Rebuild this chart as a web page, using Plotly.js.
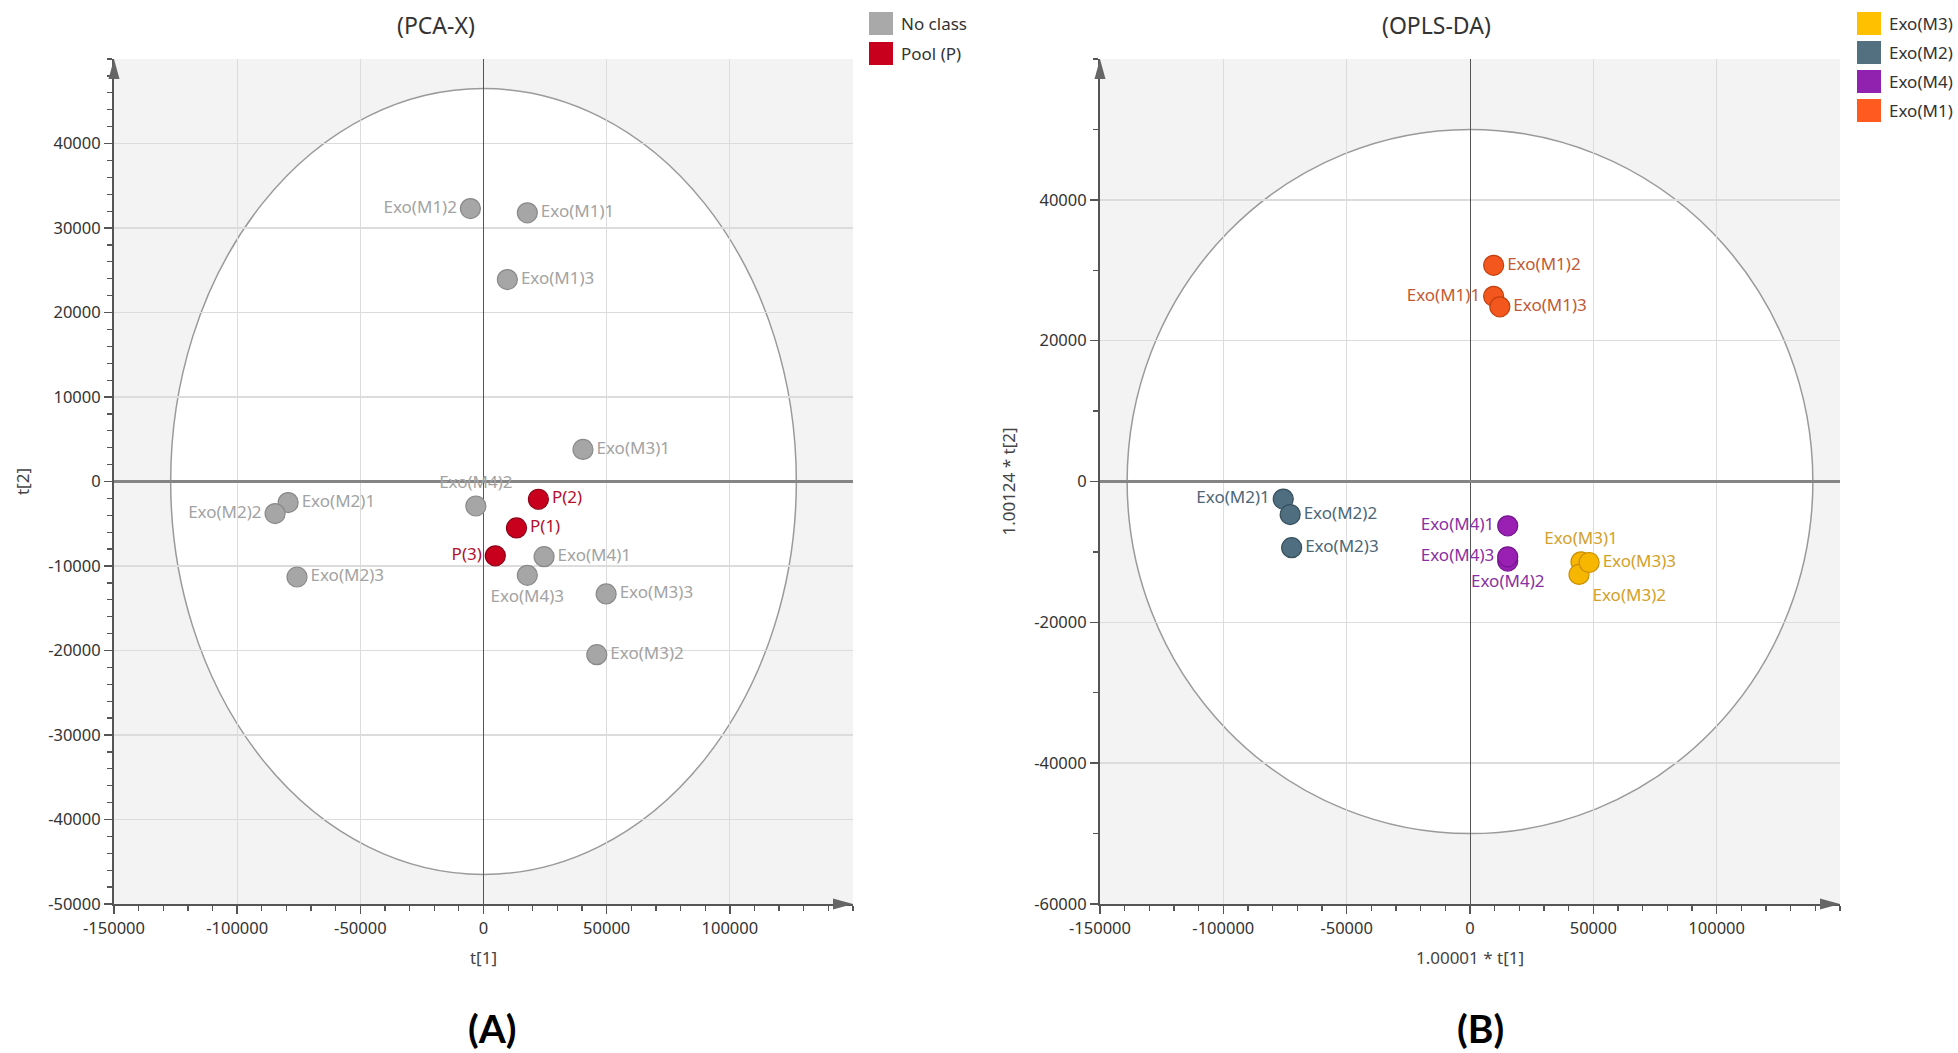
<!DOCTYPE html>
<html>
<head>
<meta charset="utf-8">
<script src="https://cdn.plot.ly/plotly-3.0.1.min.js"></script>
<style>
  html, body { margin: 0; padding: 0; background: #ffffff; }
  #chart { width: 1958px; height: 1053px; }
</style>
</head>
<body>
<div id="chart"></div>
<script>
// ---- PCA-X scores (t[1], t[2]) ----
const pcaSampleNames = ['Exo(M1)1', 'Exo(M1)2', 'Exo(M1)3', 'Exo(M2)1', 'Exo(M2)2', 'Exo(M2)3',
                        'Exo(M3)1', 'Exo(M3)2', 'Exo(M3)3', 'Exo(M4)1', 'Exo(M4)2', 'Exo(M4)3'];
const pcaSampleT1 = [17800, -5300, 9700, -79300, -84600, -75700, 40400, 46000, 49800, 24600, -3100, 17800];
const pcaSampleT2 = [31800, 32300, 23900, -2500, -3800, -11300, 3800, -20500, -13300, -8900, -2900, -11100];
const pcaSampleLabelPos = ['middle right', 'middle left', 'middle right', 'middle right', 'middle left', 'middle right',
                           'middle right', 'middle right', 'middle right', 'middle right', 'top center', 'bottom center'];

const pcaPoolNames = ['P(1)', 'P(2)', 'P(3)'];
const pcaPoolT1 = [13400, 22300, 4800];
const pcaPoolT2 = [-5500, -2100, -8800];
const pcaPoolLabelPos = ['middle right', 'middle right', 'middle left'];

const pcaClasses = ['No class', 'Pool (P)'];
const pcaEllipseSemiAxes = [127000, 46500];   // Hotelling T2 (95%) ellipse

// ---- OPLS-DA scores (1.00001*t[1], 1.00124*t[2]) ----
const oplsClasses = ['Exo(M3)', 'Exo(M2)', 'Exo(M4)', 'Exo(M1)'];
const oplsM1Names = ['Exo(M1)1', 'Exo(M1)2', 'Exo(M1)3'];
const oplsM1X = [9600, 9600, 12100];
const oplsM1Y = [26300, 30700, 24800];
const oplsM2Names = ['Exo(M2)1', 'Exo(M2)2', 'Exo(M2)3'];
const oplsM2X = [-75700, -72900, -72300];
const oplsM2Y = [-2500, -4700, -9400];
const oplsM3Names = ['Exo(M3)1', 'Exo(M3)2', 'Exo(M3)3'];
const oplsM3X = [45000, 44200, 48300];
const oplsM3Y = [-11400, -13200, -11500];
const oplsM4Names = ['Exo(M4)1', 'Exo(M4)2', 'Exo(M4)3'];
const oplsM4X = [15300, 15300, 15300];
const oplsM4Y = [-6300, -11300, -10700];
const oplsEllipseSemiAxes = [139000, 50000];

// ---- styling ----
const W = 1958, H = 1053;
const FONT = '"Segoe UI", "Noto Sans", "Open Sans", sans-serif';
const px = v => v / W;
const py = v => 1 - v / H;

const style = {
  none: { fill: '#a6a6a6', line: '#8a8a8a', text: '#a3a3a3', key: '#a9a9a9' },
  pool: { fill: '#c8001e', line: '#8e0016', text: '#b3102c', key: '#c8001e' },
  m1:   { fill: '#f4571e', line: '#c2400f', text: '#c25a35', key: '#ff5a1f' },
  m2:   { fill: '#4f6f80', line: '#37505e', text: '#4d6777', key: '#52707f' },
  m3:   { fill: '#f7b600', line: '#cc8f00', text: '#d2a12c', key: '#ffc000' },
  m4:   { fill: '#9a1fb3', line: '#741590', text: '#8a30a2', key: '#9122b0' }
};

function scoreTrace(xs, ys, names, pos, st, xa, ya) {
  return {
    type: 'scatter', mode: 'markers+text',
    x: xs, y: ys, text: names, textposition: pos,
    xaxis: xa, yaxis: ya, showlegend: false, hoverinfo: 'text',
    cliponaxis: false,
    marker: { size: 20, color: st.fill, line: { color: st.line, width: 1.2 } },
    textfont: { family: FONT, size: 17, color: st.text }
  };
}

const oplsPos = {
  m1: ['middle left', 'middle right', 'middle right'],
  m2: ['middle left', 'middle right', 'middle right'],
  m3: ['top center', 'bottom right', 'middle right'],
  m4: ['middle left', 'bottom center', 'middle left']
};

const data = [
  scoreTrace(pcaSampleT1, pcaSampleT2, pcaSampleNames, pcaSampleLabelPos, style.none, 'x', 'y'),
  scoreTrace(pcaPoolT1, pcaPoolT2, pcaPoolNames, pcaPoolLabelPos, style.pool, 'x', 'y'),
  scoreTrace(oplsM2X, oplsM2Y, oplsM2Names, oplsPos.m2, style.m2, 'x2', 'y2'),
  scoreTrace(oplsM4X, oplsM4Y, oplsM4Names, oplsPos.m4, style.m4, 'x2', 'y2'),
  scoreTrace(oplsM3X, oplsM3Y, oplsM3Names, oplsPos.m3, style.m3, 'x2', 'y2'),
  scoreTrace(oplsM1X, oplsM1Y, oplsM1Names, oplsPos.m1, style.m1, 'x2', 'y2')
];

const axisTitleFont = { family: FONT, size: 17, color: '#444' };

function xAxis(domain, titleText) {
  return {
    domain: domain, range: [-150000, 150000], autorange: false,
    tickvals: [-150000, -100000, -50000, 0, 50000, 100000],
    ticktext: ['-150000', '-100000', '-50000', '0', '50000', '100000'],
    ticks: 'outside', ticklen: 8, tickwidth: 1.5, tickcolor: '#555',
    minor: { dtick: 10000, tick0: 0, ticks: 'outside', ticklen: 5, tickwidth: 1.2, tickcolor: '#555', showgrid: false },
    showline: true, linecolor: '#555', linewidth: 2,
    showgrid: true, gridcolor: '#dcdcdc', gridwidth: 1,
    zeroline: true, zerolinecolor: '#555', zerolinewidth: 1,
    tickfont: { family: FONT, size: 16.5, color: '#333' },
    title: { text: titleText, font: axisTitleFont, standoff: 14 },
    fixedrange: true
  };
}
function yAxis(domain, range, dtick, minorDtick, titleText) {
  const vals = [];
  for (let v = range[0]; v < range[1]; v += dtick) vals.push(v);
  return {
    domain: domain, range: range, autorange: false,
    tickvals: vals, ticktext: vals.map(String),
    ticks: 'outside', ticklen: 8, tickwidth: 1.5, tickcolor: '#555',
    minor: { dtick: minorDtick, tick0: 0, ticks: 'outside', ticklen: 5, tickwidth: 1.2, tickcolor: '#555', showgrid: false },
    showline: true, linecolor: '#555', linewidth: 2,
    showgrid: true, gridcolor: '#dcdcdc', gridwidth: 1.5,
    zeroline: true, zerolinecolor: '#858585', zerolinewidth: 2.5,
    tickfont: { family: FONT, size: 16.5, color: '#333' },
    title: { text: titleText, font: axisTitleFont, standoff: 14 },
    fixedrange: true
  };
}

const yDomain = [py(904), py(59)];

function ellipse(xa, ya, ax) {
  return {
    type: 'circle', xref: xa, yref: ya, layer: 'below',
    x0: -ax[0], x1: ax[0], y0: -ax[1], y1: ax[1],
    fillcolor: '#ffffff', line: { color: '#9a9a9a', width: 1.5 }
  };
}
function upArrow(xa, ya) {
  return {
    type: 'path', xref: xa + ' domain', yref: ya + ' domain',
    xsizemode: 'pixel', ysizemode: 'pixel', xanchor: 0, yanchor: 1,
    path: 'M -5.5,-20 L 0,0 L 5.5,-20 Z',
    fillcolor: '#666', line: { width: 0 }
  };
}
function rightArrow(xa, ya) {
  return {
    type: 'path', xref: xa + ' domain', yref: ya + ' domain',
    xsizemode: 'pixel', ysizemode: 'pixel', xanchor: 1, yanchor: 0,
    path: 'M -20,5.5 L 0,0 L -20,-5.5 Z',
    fillcolor: '#666', line: { width: 0 }
  };
}

const shapes = [
  ellipse('x', 'y', pcaEllipseSemiAxes),
  ellipse('x2', 'y2', oplsEllipseSemiAxes),
  upArrow('x', 'y'), rightArrow('x', 'y'),
  upArrow('x2', 'y2'), rightArrow('x2', 'y2')
];
const annotations = [];

// legend keys drawn as colour squares with labels
function legendBlock(names, keys, x0, yc0, step) {
  names.forEach((name, i) => {
    const yc = yc0 + i * step;
    shapes.push({
      type: 'rect', xref: 'paper', yref: 'paper',
      x0: px(x0), x1: px(x0 + 24), y0: py(yc + 11.5), y1: py(yc - 11.5),
      fillcolor: keys[i], line: { width: 0 }
    });
    annotations.push({
      xref: 'paper', yref: 'paper', x: px(x0 + 30), y: py(yc),
      xanchor: 'left', yanchor: 'middle', showarrow: false,
      text: name, font: { family: FONT, size: 17, color: '#333' }
    });
  });
}
legendBlock(pcaClasses, [style.none.key, style.pool.key], 869, 23.5, 30);
legendBlock(oplsClasses, [style.m3.key, style.m2.key, style.m4.key, style.m1.key], 1857, 23.5, 29);

// panel titles and panel letters
annotations.push(
  { xref: 'paper', yref: 'paper', x: px(436), y: py(25), xanchor: 'center', yanchor: 'middle', showarrow: false,
    text: '(PCA-X)', font: { family: FONT, size: 23, color: '#333' } },
  { xref: 'paper', yref: 'paper', x: px(1436), y: py(25), xanchor: 'center', yanchor: 'middle', showarrow: false,
    text: '(OPLS-DA)', font: { family: FONT, size: 23, color: '#333' } },
  { xref: 'paper', yref: 'paper', x: px(493), y: 0, xanchor: 'center', yanchor: 'bottom', showarrow: false,
    text: '<b>(A)</b>', font: { family: 'Lato, "Noto Sans", sans-serif', size: 39, color: '#000' } },
  { xref: 'paper', yref: 'paper', x: px(1480), y: 0, xanchor: 'center', yanchor: 'bottom', showarrow: false,
    text: '<b>(B)</b>', font: { family: 'Lato, "Noto Sans", sans-serif', size: 39, color: '#000' } }
);

const layout = {
  width: W, height: H,
  margin: { l: 0, r: 0, t: 0, b: 0 },
  paper_bgcolor: '#ffffff', plot_bgcolor: '#f3f3f3',
  showlegend: false,
  xaxis: xAxis([px(114), px(853)], 't[1]'),
  yaxis: yAxis(yDomain, [-50000, 50000], 10000, 2000, 't[2]'),
  xaxis2: Object.assign(xAxis([px(1100), px(1840)], '1.00001 * t[1]'), { anchor: 'y2' }),
  yaxis2: Object.assign(yAxis(yDomain, [-60000, 60000], 20000, 10000, '1.00124 * t[2]'), { anchor: 'x2' }),
  shapes: shapes,
  annotations: annotations
};
layout.xaxis.anchor = 'y';
layout.yaxis.anchor = 'x';

Plotly.newPlot('chart', data, layout, { displayModeBar: false, staticPlot: true });
</script>
</body>
</html>
